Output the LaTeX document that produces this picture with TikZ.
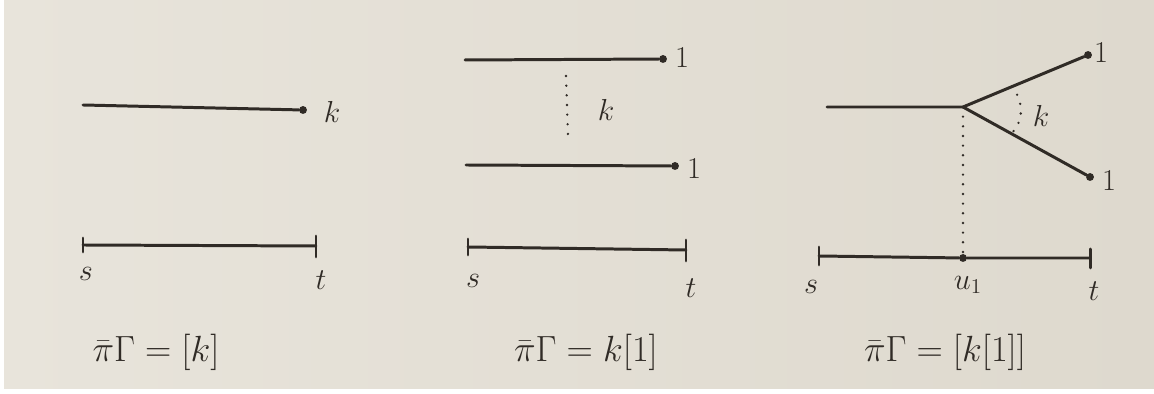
\documentclass[tikz,border=0pt]{standalone}
\usepackage{amsmath}
\usetikzlibrary{calc}
\definecolor{paperL}{RGB}{232,228,219}
\definecolor{paperR}{RGB}{222,217,206}
\definecolor{ink}{RGB}{48,43,38}

\begin{document}
\begin{tikzpicture}[x=0.02cm,y=-0.02cm,
  strand/.style={ink,line width=1.7pt,line cap=round},
  dotline/.style={ink,line width=1.5pt,line cap=round,dash pattern=on 0pt off 5.5pt},
  tip/.style={circle,fill=ink,inner sep=0pt,minimum size=4.5pt},
  lab/.style={ink,font=\LARGE},
  eqn/.style={ink,font=\huge}]
\useasboundingbox (0,0) rectangle (1154,394);
\shade[left color=paperL,right color=paperR] (0,0) rectangle (1154,394);
\fill[white] (0,0) rectangle (4,394);
\fill[white] (0,389) rectangle (1154,394);

% first picture: one strand
\coordinate (a1) at (83,105);
\node[tip] (k1) at (303,110) {};
\draw[strand] (a1) -- (k1);
\node[lab] (lk1) at (332,112) {$k$};
\coordinate (s1) at (83,245);
\coordinate (t1) at (316,246);
\draw[strand] (s1) -- (t1);
\draw[strand] (s1) ++(0,-7) -- ++(0,14);
\draw[strand] (t1) ++(0,-10) -- ++(0,21);
\node[lab] (ls1) at (86,274) {$s$};
\node[lab] (lt1) at (321,280) {$t$};
\node[eqn] (eq1) at (156,352) {$\bar{\pi}\Gamma = [k]$};

% second picture: two strands
\coordinate (a2) at (465,60);
\node[tip] (p2) at (663,59) {};
\draw[strand] (a2) -- (p2);
\node[lab] (lp2) at (682,58) {$1$};
\coordinate (b2) at (466,165);
\node[tip] (q2) at (675,166) {};
\draw[strand] (b2) -- (q2);
\node[lab] (lq2) at (694,169) {$1$};
\coordinate (d2) at (566,76);
\coordinate (e2) at (568,136);
\draw[dotline] (d2) -- (e2);
\node[lab] (lk2) at (606,110) {$k$};
\coordinate (s2) at (468,247);
\coordinate (t2) at (686,250);
\draw[strand] (s2) -- (t2);
\draw[strand] (s2) ++(0,-8) -- ++(0,16);
\draw[strand] (t2) ++(0,-10) -- ++(0,21);
\node[lab] (ls2) at (473,281) {$s$};
\node[lab] (lt2) at (691,288) {$t$};
\node[eqn] (eq2) at (586,352) {$\bar{\pi}\Gamma = k[1]$};

% third picture: a branching strand
\coordinate (a3) at (827,107);
\coordinate (v3) at (963,107);
\node[tip] (p3) at (1088,55) {};
\node[tip] (q3) at (1090,177) {};
\draw[strand] (a3) -- (v3) -- (p3);
\draw[strand] (v3) -- (q3);
\node[lab] (lp3) at (1101,53) {$1$};
\node[lab] (lq3) at (1109,181) {$1$};
\coordinate (m3) at ($(v3)!0.39!(p3)$);
\coordinate (n3) at ($(v3)!0.38!(q3)$);
\draw[dotline] (m3) .. controls (1024,101) and (1024,121) .. (n3);
\node[lab] (lk3) at (1041,116) {$k$};
\coordinate (s3) at (819,256);
\node[tip] (u3) at (963,258) {};
\coordinate (t3) at (1090,258);
\draw[strand] (s3) -- (u3) -- (t3);
\draw[dotline] (v3) -- (u3);
\draw[strand] (s3) ++(0,-9) -- ++(0,18);
\draw[strand] (t3) ++(0,-9) -- ++(0,19);
\node[lab] (ls3) at (811,287) {$s$};
\node[lab] (lu3) at (968,285) {$u_1$};
\node[lab] (lt3) at (1094,291) {$t$};
\node[eqn] (eq3) at (945,352) {$\bar{\pi}\Gamma = [k[1]]$};
\end{tikzpicture}
\end{document}
